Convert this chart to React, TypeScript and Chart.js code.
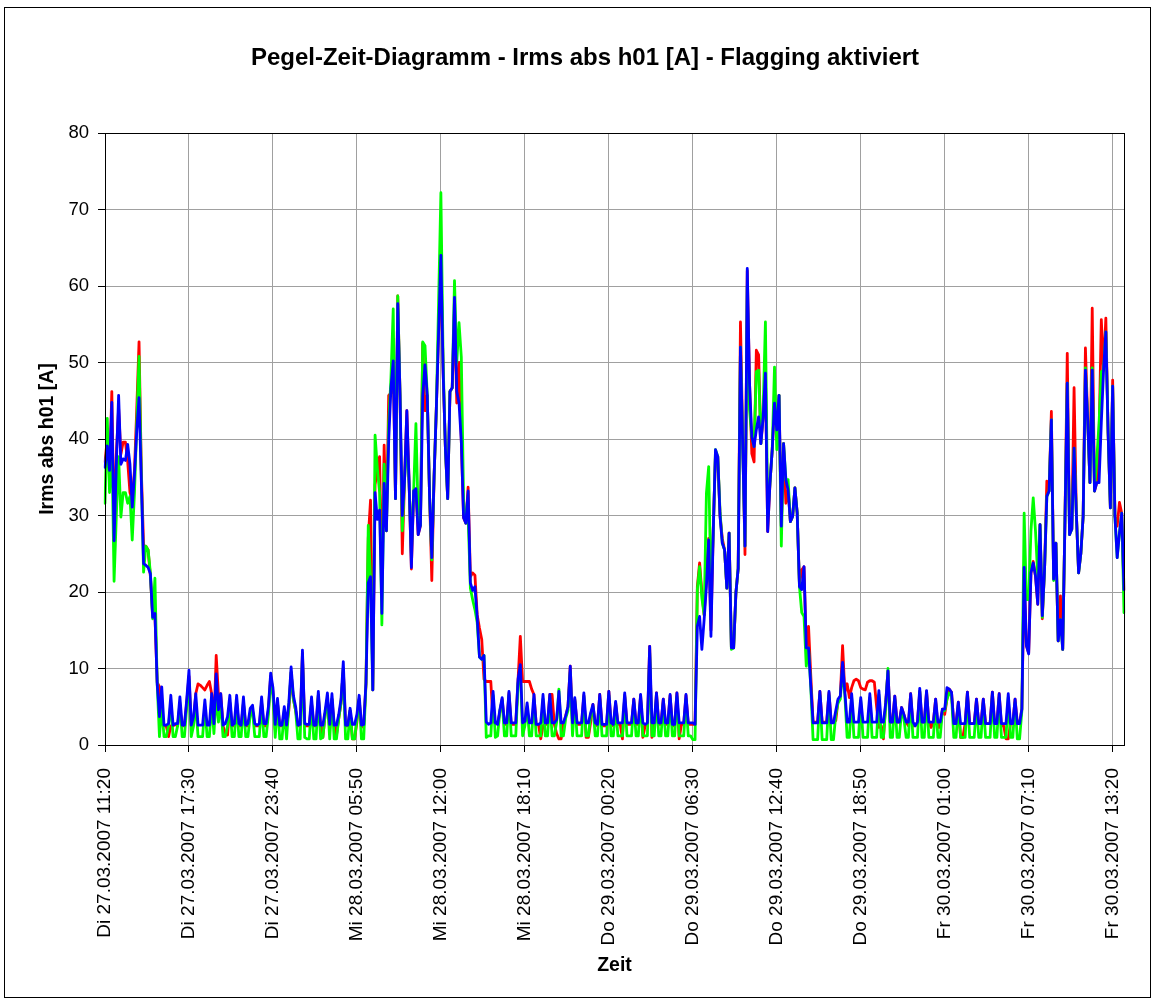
import React, { useEffect, useRef } from "react";
import { Chart, registerables } from "chart.js";

Chart.register(...registerables);

const TITLE = "Pegel-Zeit-Diagramm - Irms abs h01 [A] - Flagging aktiviert";
const Y_TITLE = "Irms abs h01 [A]";
const X_TITLE = "Zeit";

const TICK_LABELS = [
  "Di 27.03.2007 11:20",
  "Di 27.03.2007 17:30",
  "Di 27.03.2007 23:40",
  "Mi 28.03.2007 05:50",
  "Mi 28.03.2007 12:00",
  "Mi 28.03.2007 18:10",
  "Do 29.03.2007 00:20",
  "Do 29.03.2007 06:30",
  "Do 29.03.2007 12:40",
  "Do 29.03.2007 18:50",
  "Fr 30.03.2007 01:00",
  "Fr 30.03.2007 07:10",
  "Fr 30.03.2007 13:20",
];
const TICK_EVERY = 37;
const Y_TICKS = [0, 10, 20, 30, 40, 50, 60, 70, 80];

const RED = [
  37, 40, 35, 46.2, 28, 38, 44, 38, 39.6, 39.6,
  37, 33, 32, 36, 44, 52.7, 36, 26, 26, 25.5,
  22, 17, 17, 8.2, 7.6, 3, 2.5, 2.5, 1.1, 2.5,
  2.5, 2.7, 2.5, 5, 2.5, 2.5, 5.5, 9, 2.5, 3,
  6.7, 8, 7.8, 7.5, 7.2, 7.8, 8.3, 6.7, 3, 11.7,
  6.5, 6.7, 2.5, 1.5, 1.3, 5.5, 2.5, 2.5, 5.5, 2.5,
  2.5, 5.5, 2.5, 2.5, 4, 4.5, 2.5, 2.5, 2.5, 5.5,
  2.5, 2.5, 4.5, 9, 7, 2, 5.5, 2.5, 2.5, 4,
  2.5, 4.5, 9.5, 6, 4.5, 2.5, 2.5, 12, 2.5, 2.5,
  2.5, 5.5, 2.5, 2.5, 6.5, 2.5, 1, 4, 6, 2,
  6, 2.5, 1.3, 3.5, 5.5, 10, 2.5, 2.5, 4.5, 0.8,
  0.8, 3, 6, 2.3, 2.5, 8, 27, 32, 7.2, 34,
  36, 37.7, 20, 39.2, 28, 45.7, 46, 50, 32.2, 58.7,
  45.7, 25, 34.7, 43.7, 34.2, 23, 33.2, 33.5, 27.5, 28.7,
  52.5, 43.7, 45.7, 32.7, 21.5, 35, 44, 54, 63, 48.7,
  38.7, 32.2, 46.2, 46.7, 57, 44.7, 50, 39.7, 29.7, 29,
  33.7, 22, 22.5, 22.2, 17, 15.3, 13.8, 8.6, 8.3, 8.3,
  8.3, 3, 3, 2.7, 4.3, 6, 2.7, 2.7, 6.8, 2.7,
  2.7, 2.7, 8.5, 14.2, 8.3, 8.3, 8.3, 8.3, 7.3, 6.6,
  2.7, 2.7, 0.8, 2.5, 2.7, 2.7, 6.6, 6.6, 2.7, 1.5,
  0.8, 0.8, 2.7, 3.8, 5, 10.3, 2.7, 6, 2.7, 2.7,
  2.7, 6.5, 1, 1, 3, 5.3, 2.7, 2.5, 6.6, 2.5,
  2.5, 2.5, 7, 2.7, 2.5, 5.5, 2.7, 2.7, 0.8, 6.5,
  2.7, 2.7, 2.7, 6, 2.7, 2.7, 6.5, 1, 2.5, 2.7,
  12.9, 1, 2, 6.8, 2.7, 2.7, 6, 2.7, 2.7, 6.5,
  2.5, 2.5, 6.8, 0.8, 2.7, 2.7, 6.5, 2.7, 2.7, 2.7,
  2.7, 20.7, 23.8, 20, 17, 22, 27, 15, 28, 38,
  37.7, 30, 27, 25.5, 20.5, 27.7, 12.7, 12.7, 19.9, 23.1,
  55.3, 40, 24.9, 62, 47.3, 38.1, 37, 51.6, 51, 39.4,
  42.9, 48.6, 27.9, 34.2, 38.6, 44.7, 41.2, 45.7, 28.6, 39.4,
  31.6, 33.3, 29.2, 29.9, 33.6, 30.3, 21, 22.9, 23.3, 12.7,
  15.5, 9, 3, 3, 3, 7, 3, 3, 3, 6.8,
  3, 3, 3.2, 5.8, 6.4, 13, 6.9, 8, 6.2, 7.5,
  8.4, 8.6, 8.4, 7.5, 7.3, 7.2, 8.2, 8.4, 8.4, 8.2,
  5, 2.3, 2.5, 0.8, 5.5, 9.7, 3, 3, 6.4, 3,
  3, 4.9, 4, 3, 2.5, 6.7, 2.5, 2.5, 3, 7,
  3, 3, 7, 3, 2.3, 3, 6, 2.3, 2.3, 4.7,
  4, 6, 7.3, 6.9, 2.8, 2.8, 5.6, 1, 1, 2.8,
  6.9, 2.8, 2.8, 2.8, 6, 2.8, 2.8, 6, 2.8, 2.8,
  2.8, 6.9, 2.8, 2.8, 6.7, 2.5, 2.5, 0.8, 0.8, 2.8,
  2.8, 6, 2.8, 2.8, 4.7, 22, 13, 12, 22.5, 24,
  22.1, 18.4, 28.8, 16.5, 23, 34.5, 33.2, 43.6, 21.7, 26.4,
  13.6, 19.5, 12.5, 29.5, 51.2, 28.2, 28.2, 46.7, 30.3, 22.5,
  25.1, 29.9, 51.9, 42.5, 34.3, 57.1, 33.2, 34.3, 40, 55.6,
  49, 55.8, 40.8, 31, 47.7, 29.9, 28.6, 31.7, 30.3, 20.3,
];

const GREEN = [
  31.6, 42.7, 33, 40, 21.4, 30, 37.7, 29.8, 33, 33,
  31.6, 32.5, 26.8, 33, 42, 50.8, 35, 22.6, 26, 25.5,
  22.5, 16.5, 21.8, 8, 1.1, 5, 1.1, 1.1, 2.5, 5.5,
  1.1, 1.1, 2.5, 5.5, 1.1, 1.1, 5, 8.5, 1.1, 2.5,
  5.5, 1.1, 1.1, 1.1, 5, 1.1, 1.1, 5.5, 1.5, 6.5,
  3, 5.5, 1.1, 1.1, 2.5, 5.5, 1.1, 1.1, 5.5, 1.1,
  1.1, 5.5, 1.1, 1.1, 4, 4.5, 1.1, 1.1, 1.1, 5.5,
  1.1, 1.1, 4, 8.5, 6.5, 1, 5.5, 0.8, 0.8, 4.5,
  0.8, 5, 9.5, 6, 4.5, 0.8, 0.8, 11.5, 1, 0.8,
  0.8, 5.5, 0.8, 0.8, 6.5, 0.8, 1, 4, 6, 0.8,
  6, 0.8, 0.8, 3.5, 5.5, 10, 0.8, 0.8, 4.5, 0.8,
  0.8, 3.5, 6, 0.8, 0.8, 8, 28.7, 21.7, 7.2, 40.5,
  36.2, 33, 15.7, 36.7, 28, 42, 48, 57, 32.2, 58.7,
  45.7, 28, 34.7, 40, 34.2, 25, 33.2, 42, 30, 28.7,
  52.7, 52.2, 45.7, 32.7, 24.2, 35, 44, 58, 72.2, 50,
  38.7, 32.2, 46.2, 46.7, 60.7, 50, 55.2, 50.7, 32, 29,
  30, 20.5, 19, 17.7, 16, 11.5, 11.2, 11.7, 1, 1.2,
  1.2, 6.5, 1, 1.2, 4.5, 5.8, 1.2, 1.2, 6.5, 1.2,
  1.2, 1.2, 8, 10, 1.2, 2.5, 5, 1.2, 1.2, 6,
  1.2, 1.2, 1.2, 6, 1.2, 1.2, 6, 1.2, 1.2, 3,
  7.3, 1.2, 1.2, 3.5, 4.5, 9.5, 1.2, 5.8, 1.2, 1.2,
  1.2, 6.3, 1.2, 1.2, 4, 5, 1.2, 1.2, 6, 1.2,
  1.2, 1.2, 6.5, 1.2, 1.2, 5.2, 1.2, 1.2, 1.2, 6.3,
  1.2, 1.2, 1.2, 5.5, 1.2, 1.2, 6, 1.2, 1.2, 1.2,
  12, 1.2, 1.2, 6.3, 1.2, 1.2, 5.5, 1.2, 1.2, 6,
  1.2, 1.2, 6.3, 1.2, 1.2, 1.2, 6, 1.2, 1.2, 0.7,
  0.7, 20.3, 23.3, 19.2, 17, 32.9, 36.4, 20, 27.7, 38.6,
  37.7, 30.5, 26.4, 25.5, 20.5, 27.7, 12.5, 12.7, 19.9, 23.1,
  52, 39, 26, 60, 43.8, 40.3, 39, 48.8, 49, 39.4,
  43.8, 55.3, 30, 34.2, 38.6, 49.4, 38.6, 45.7, 26, 39.4,
  34.7, 34.7, 29.2, 29.9, 33.6, 30.3, 20.7, 17.3, 16.8, 10.3,
  12.7, 7.5, 0.7, 0.7, 0.7, 6.5, 0.7, 0.7, 0.7, 6.5,
  0.7, 0.7, 4, 5.5, 6, 10, 6.5, 1, 1, 6.2,
  1, 1, 1, 5.8, 1, 1, 1, 6.2, 1, 1,
  1, 6.6, 1, 1, 5, 10, 1, 1, 6, 1,
  1, 4.5, 3.5, 1, 1, 6.2, 1, 1, 1, 7,
  1, 1, 6.6, 1, 1, 1, 5.5, 1, 1, 4.5,
  4.5, 6, 6.8, 6.5, 1, 1, 5.2, 1, 1, 1,
  6.5, 1, 1, 1, 5.5, 1, 1, 5.5, 1, 1,
  1, 6.5, 1, 1, 6.2, 1, 1, 1, 6.2, 1,
  1, 5.5, 0.8, 0.8, 4.5, 30.3, 19, 19, 28, 32.3,
  28, 22, 28.8, 16.7, 23, 32.5, 33.2, 42.5, 21.5, 26.4,
  13.6, 16.4, 12.5, 29.5, 47.3, 27.5, 28.2, 38.8, 30.3, 22.5,
  25.1, 29.9, 49.3, 42.5, 34.3, 49.3, 33.2, 37.3, 42, 48.8,
  49, 54, 40.8, 31, 46.9, 29.9, 24.5, 27.7, 30.3, 17.3,
];

const BLUE = [
  36.3, 39.1, 35.9, 44.8, 26.7, 36.7, 45.7, 36.7, 37.4, 37.2,
  39.3, 36.7, 31.1, 35.4, 41.1, 45.4, 34.6, 23.7, 23.5, 23.2,
  22.4, 16.7, 17.2, 8, 3.7, 7.6, 2.6, 2.6, 2.8, 6.5,
  2.6, 2.8, 2.8, 6.3, 2.6, 2.6, 5.9, 9.8, 2.6, 3.7,
  6.7, 2.6, 2.6, 2.6, 5.9, 2.6, 2.6, 6.7, 2.8, 9.3,
  4.6, 6.7, 2.6, 2.8, 3.7, 6.5, 2.6, 2.8, 6.5, 2.8,
  2.6, 6.3, 2.6, 2.8, 4.8, 5.2, 2.8, 2.6, 2.8, 6.3,
  2.8, 2.8, 5, 9.4, 7.5, 2.7, 6.1, 2.6, 2.6, 5,
  2.6, 5.5, 10.2, 6.5, 5, 2.6, 2.7, 12.4, 2.8, 2.7,
  2.7, 6.3, 2.6, 2.6, 7, 2.6, 2.6, 4.5, 6.8, 2.7,
  6.7, 2.6, 2.6, 4, 6, 10.9, 2.6, 2.6, 4.8, 2.7,
  2.7, 4, 6.5, 2.6, 2.7, 8.2, 21.2, 22, 7.2, 33,
  29.5, 30.7, 17.2, 34.2, 28, 39.7, 46.7, 50.2, 32.2, 57.7,
  45.7, 30, 34.7, 43.7, 34.2, 23.2, 33.2, 33.5, 27.5, 28.7,
  45.7, 49.7, 45.7, 32.7, 24.5, 35, 44, 54, 64, 48.7,
  38.7, 32.2, 46.2, 46.7, 58.5, 46.2, 44.7, 39.7, 29.7, 29,
  33.2, 21.2, 20.2, 20.7, 16.7, 11.5, 11.2, 11.7, 3, 2.7,
  2.9, 7, 2.9, 2.7, 4.6, 6.2, 2.9, 2.9, 7, 2.9,
  2.9, 2.9, 8.6, 10.5, 2.9, 3.1, 5.5, 2.9, 2.9, 6.6,
  2.7, 2.7, 2.9, 6.6, 2.9, 2.9, 6.6, 2.9, 2.9, 3.3,
  7, 2.9, 2.9, 3.8, 5, 10.3, 2.9, 6.2, 2.9, 2.9,
  2.9, 6.8, 2.9, 2.9, 4.2, 5.3, 2.9, 2.7, 6.6, 2.7,
  2.7, 2.7, 7, 2.9, 2.7, 5.7, 2.9, 2.9, 2.9, 6.8,
  2.9, 2.9, 2.9, 6, 2.9, 2.9, 6.6, 2.9, 2.7, 2.9,
  12.9, 2.9, 2.9, 6.8, 2.9, 2.9, 6, 2.9, 2.9, 6.6,
  2.7, 2.7, 6.8, 2.9, 2.9, 2.9, 6.6, 2.9, 2.9, 2.9,
  2.7, 15.5, 16.8, 12.5, 16.4, 20.7, 26.8, 14.2, 27.7, 38.6,
  37.7, 29.9, 26.4, 25.5, 20.5, 27.7, 12.7, 12.7, 19.9, 23.1,
  52, 39, 26, 62.3, 47.3, 40.3, 39, 41.2, 42.9, 39.4,
  42.9, 48.6, 27.9, 34.2, 38.6, 44.7, 41.2, 45.7, 28.6, 39.4,
  34.7, 33.3, 29.2, 29.9, 33.6, 30.3, 20.7, 20.3, 23.3, 12.7,
  12.7, 7.7, 2.9, 2.9, 2.9, 7, 2.9, 2.9, 2.9, 7,
  2.9, 2.9, 4.5, 6, 6.4, 10.8, 6.9, 3, 3, 6.7,
  3, 3, 3, 6.2, 3, 3, 3, 6.7, 3, 3,
  3, 7.1, 3, 3, 5.5, 9.7, 3, 3, 6.4, 3,
  3, 4.9, 4, 3, 3, 6.7, 3, 2.5, 3, 7.4,
  3, 3, 7.1, 3, 3, 3, 6, 3, 3, 4.7,
  4.7, 7.5, 7.3, 6.9, 2.8, 2.8, 5.6, 2.8, 2.8, 2.8,
  6.9, 2.8, 2.8, 2.8, 6, 2.8, 2.8, 6, 2.8, 2.8,
  2.8, 6.9, 2.8, 2.8, 6.7, 2.8, 2.8, 2.8, 6.7, 2.8,
  2.8, 6, 2.8, 2.8, 4.7, 23.2, 13, 11.9, 22.5, 23.8,
  22.1, 18.4, 28.8, 16.9, 23, 32.5, 33.2, 42.5, 21.7, 26.4,
  13.6, 16.4, 12.5, 29.5, 47.3, 27.5, 28.2, 38.8, 30.3, 22.5,
  25.1, 29.9, 49, 42.5, 34.3, 49, 33.2, 34.3, 34.3, 42.1,
  49, 54, 40.8, 31, 46.9, 29.9, 24.5, 27.7, 30.3, 20.3,
];

const DAY_NAMES = ["So", "Mo", "Di", "Mi", "Do", "Fr", "Sa"];
const START_UTC = Date.UTC(2007, 2, 27, 11, 20);
const STEP_MIN = 10;

function pad2(n: number) {
  return n < 10 ? "0" + n : String(n);
}

function makeCategories(n: number): string[] {
  const out: string[] = [];
  for (let i = 0; i < n; i++) {
    const d = new Date(START_UTC + i * STEP_MIN * 60000);
    out.push(
      `${DAY_NAMES[d.getUTCDay()]} ${pad2(d.getUTCDate())}.${pad2(d.getUTCMonth() + 1)}.${d.getUTCFullYear()} ${pad2(d.getUTCHours())}:${pad2(d.getUTCMinutes())}`
    );
  }
  return out;
}

const FONT = '"Liberation Sans", Arial, sans-serif';
const W = 1155;
const H = 1002;

export default function App() {
  const ref = useRef<HTMLCanvasElement | null>(null);

  useEffect(() => {
    const canvas = ref.current;
    if (!canvas) return;
    const categories = makeCategories(BLUE.length);

    const framePlugin = {
      id: "frame",
      beforeDraw(chart: any) {
        const ctx = chart.ctx;
        ctx.save();
        ctx.fillStyle = "#ffffff";
        ctx.fillRect(0, 0, W, H);
        ctx.strokeStyle = "#000000";
        ctx.lineWidth = 1;
        ctx.strokeRect(4.5, 7.5, 1146, 990);
        ctx.restore();
      },
      afterDraw(chart: any) {
        const ctx = chart.ctx;
        const a = chart.chartArea;
        ctx.save();
        ctx.strokeStyle = "#000000";
        ctx.lineWidth = 1;
        ctx.strokeRect(Math.round(a.left) + 0.5, Math.round(a.top) + 0.5, Math.round(a.right - a.left), Math.round(a.bottom - a.top));
        ctx.fillStyle = "#000000";
        ctx.textAlign = "center";
        ctx.textBaseline = "middle";
        ctx.font = `bold 24px ${FONT}`;
        ctx.fillText(TITLE, 585, 58);
        ctx.font = `bold 19.5px ${FONT}`;
        ctx.fillText(X_TITLE, (a.left + a.right) / 2, 966);
        ctx.translate(48, (a.top + a.bottom) / 2);
        ctx.rotate(-Math.PI / 2);
        ctx.fillText(Y_TITLE, 0, 0);
        ctx.restore();
      },
    };

    const chart = new Chart(canvas, {
      type: "line",
      data: {
        labels: categories,
        datasets: [
          { label: "L3", data: BLUE, borderColor: "#0000ff", borderWidth: 2.8 },
          { label: "L2", data: GREEN, borderColor: "#00ff00", borderWidth: 2.8 },
          { label: "L1", data: RED, borderColor: "#ff0000", borderWidth: 2.8 },
        ].map((d) => ({
          ...d,
          pointRadius: 0,
          tension: 0,
          fill: false,
          borderJoinStyle: "round" as const,
          borderCapStyle: "round" as const,
        })),
      },
      options: {
        animation: false,
        responsive: false,
        devicePixelRatio: 1,
        layout: { padding: { top: 133, right: 31, bottom: 0, left: 0 } },
        plugins: {
          legend: { display: false },
          tooltip: { enabled: false },
          title: { display: false },
        },
        scales: {
          x: {
            type: "category",
            offset: false,
            ticks: {
              autoSkip: false,
              maxRotation: 90,
              minRotation: 90,
              color: "#000000",
              padding: 16,
              font: { size: 19, family: FONT },
              callback: (_v: any, i: number) =>
                i % TICK_EVERY === 0 ? TICK_LABELS[i / TICK_EVERY] ?? "" : "",
            },
            grid: {
              offset: false,
              color: (c: any) => (c.index % TICK_EVERY === 0 ? "#a0a0a0" : "rgba(0,0,0,0)"),
              tickColor: (c: any) => (c.index % TICK_EVERY === 0 ? "#000000" : "rgba(0,0,0,0)"),
              tickLength: 7,
              lineWidth: 1,
            },
            border: { color: "#000000", width: 1 },
            afterFit: (s: any) => {
              s.height = 257;
              s.paddingLeft = 0;
              s.paddingRight = 0;
            },
          },
          y: {
            min: 0,
            max: 80,
            afterBuildTicks: (s: any) => {
              s.ticks = Y_TICKS.map((v) => ({ value: v }));
            },
            ticks: {
              color: "#000000",
              padding: 9,
              font: { size: 18.5, family: FONT },
            },
            grid: {
              color: "#a0a0a0",
              tickColor: "#000000",
              tickLength: 7,
              lineWidth: 1,
            },
            border: { color: "#000000", width: 1 },
            afterFit: (s: any) => {
              s.width = 105;
            },
          },
        },
      },
      plugins: [framePlugin],
    } as any);

    return () => {
      chart.destroy();
    };
  }, []);

  return (
    <div style={{ position: "absolute", left: 0, top: 0, width: W, height: H, background: "#fff" }}>
      <canvas ref={ref} width={W} height={H} style={{ display: "block", width: W, height: H }} />
    </div>
  );
}
